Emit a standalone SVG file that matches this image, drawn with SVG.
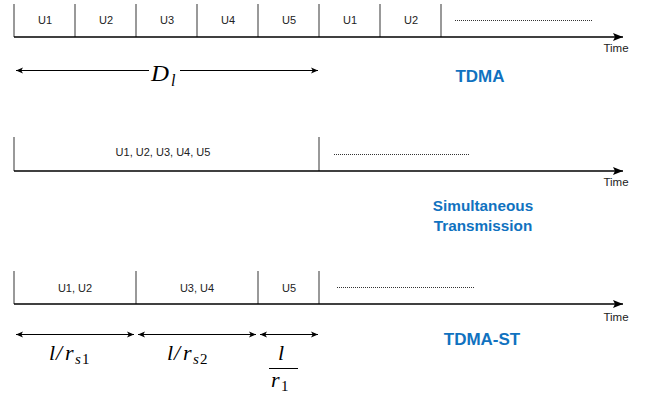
<svg xmlns="http://www.w3.org/2000/svg" width="649" height="400" viewBox="0 0 649 400">
<defs>
<marker id="big" viewBox="0 0 10 10" refX="10" refY="5" markerWidth="10" markerHeight="10" markerUnits="userSpaceOnUse" orient="auto"><path d="M0,1 L10,5 L0,9 L2,5 Z" fill="#000"/></marker>
<marker id="sm" viewBox="0 0 8 8" refX="8" refY="4" markerWidth="7" markerHeight="7" markerUnits="userSpaceOnUse" orient="auto-start-reverse"><path d="M0,0.5 L8,4 L0,7.5 L2,4 Z" fill="#000"/></marker>
</defs>
<style>
.axis{stroke:#000;stroke-width:1.3;fill:none}
.tick{stroke:#777;stroke-width:1.5}
.dot{stroke:#333;stroke-width:1;stroke-dasharray:1 1}
.lbl{font-family:"Liberation Sans",Arial,sans-serif;font-size:11px;fill:#222;text-anchor:middle}
.time{font-family:"Liberation Sans",Arial,sans-serif;font-size:11.5px;fill:#222;text-anchor:middle}
.title{font-family:"Liberation Sans",Arial,sans-serif;font-size:17px;font-weight:bold;fill:#1072c0;text-anchor:middle}
.title2{font-family:"Liberation Sans",Arial,sans-serif;font-size:15.3px;font-weight:bold;fill:#1072c0;text-anchor:middle}
.math{font-family:"Liberation Serif","Times New Roman",serif;font-style:italic;fill:#000}
.num{font-family:"Liberation Serif","Times New Roman",serif;fill:#000}
.dim{stroke:#000;stroke-width:1;fill:none}
</style>
<rect width="649" height="400" fill="#fff"/>

<g id="tdma">
<line class="tick" x1="14" y1="4" x2="14" y2="37"/>
<line class="tick" x1="75" y1="4" x2="75" y2="37"/>
<line class="tick" x1="136" y1="4" x2="136" y2="37"/>
<line class="tick" x1="197" y1="4" x2="197" y2="37"/>
<line class="tick" x1="258" y1="4" x2="258" y2="37"/>
<line class="tick" x1="319" y1="4" x2="319" y2="37"/>
<line class="tick" x1="380" y1="4" x2="380" y2="37"/>
<line class="tick" x1="441" y1="4" x2="441" y2="37"/>
<text class="lbl" x="45" y="24">U1</text>
<text class="lbl" x="106" y="24">U2</text>
<text class="lbl" x="167" y="24">U3</text>
<text class="lbl" x="228" y="24">U4</text>
<text class="lbl" x="289" y="24">U5</text>
<text class="lbl" x="350" y="24">U1</text>
<text class="lbl" x="411" y="24">U2</text>
<line class="dot" x1="455" y1="20.5" x2="593" y2="20.5"/>
<text class="time" x="616" y="52">Time</text>
<text class="title" x="480" y="82">TDMA</text>
</g>

<g id="sim">
<line class="tick" x1="14" y1="137" x2="14" y2="171"/>
<line class="tick" x1="319" y1="137" x2="319" y2="171"/>
<text class="lbl" x="163" y="156">U1, U2, U3, U4, U5</text>
<line class="dot" x1="334" y1="154.5" x2="470" y2="154.5"/>
<text class="time" x="616" y="186">Time</text>
<text class="title2" x="483" y="211">Simultaneous</text>
<text class="title2" x="483" y="231">Transmission</text>
</g>

<g id="tdmast">
<line class="tick" x1="14" y1="271" x2="14" y2="304"/>
<line class="tick" x1="136" y1="271" x2="136" y2="304"/>
<line class="tick" x1="258" y1="271" x2="258" y2="304"/>
<line class="tick" x1="319" y1="271" x2="319" y2="304"/>
<text class="lbl" x="75" y="292">U1, U2</text>
<text class="lbl" x="197" y="292">U3, U4</text>
<text class="lbl" x="289" y="292">U5</text>
<line class="dot" x1="337" y1="287.5" x2="475" y2="287.5"/>
<text class="time" x="616" y="321">Time</text>
<text class="title" x="482" y="345">TDMA-ST</text>
</g>

<g id="connectors">
<line class="axis" x1="14" y1="37" x2="623" y2="37" marker-end="url(#big)"/>
<line class="axis" x1="14" y1="171" x2="623" y2="171" marker-end="url(#big)"/>
<line class="axis" x1="14" y1="304" x2="623" y2="304" marker-end="url(#big)"/>
<line class="dim" x1="16" y1="70.5" x2="149" y2="70.5" marker-start="url(#sm)"/>
<line class="dim" x1="180" y1="70.5" x2="318" y2="70.5" marker-end="url(#sm)"/>
<line class="dim" x1="16" y1="334.5" x2="134" y2="334.5" marker-start="url(#sm)" marker-end="url(#sm)"/>
<line class="dim" x1="138" y1="334.5" x2="256" y2="334.5" marker-start="url(#sm)" marker-end="url(#sm)"/>
<line class="dim" x1="260" y1="334.5" x2="318" y2="334.5" marker-start="url(#sm)" marker-end="url(#sm)"/>
</g>

<g id="math">
<text class="math" x="151" y="81" font-size="24" textLength="18" lengthAdjust="spacingAndGlyphs">D</text>
<text class="math" x="171" y="86" font-size="16">l</text>
<text class="math" y="360" font-size="22"><tspan x="49">l</tspan><tspan x="56">/</tspan><tspan x="65">r</tspan></text>
<text class="math" x="75" y="364" font-size="15">s</text>
<text class="num" x="82" y="364" font-size="15">1</text>
<text class="math" y="360" font-size="22"><tspan x="167">l</tspan><tspan x="174">/</tspan><tspan x="183">r</tspan></text>
<text class="math" x="193" y="364" font-size="15">s</text>
<text class="num" x="200" y="364" font-size="15">2</text>
<text class="math" x="278" y="360" font-size="22">l</text>
<line x1="269" y1="368.5" x2="298" y2="368.5" stroke="#000" stroke-width="1"/>
<text class="math" x="271" y="387" font-size="22">r</text>
<text class="num" x="281" y="391" font-size="15">1</text>
</g>
</svg>
